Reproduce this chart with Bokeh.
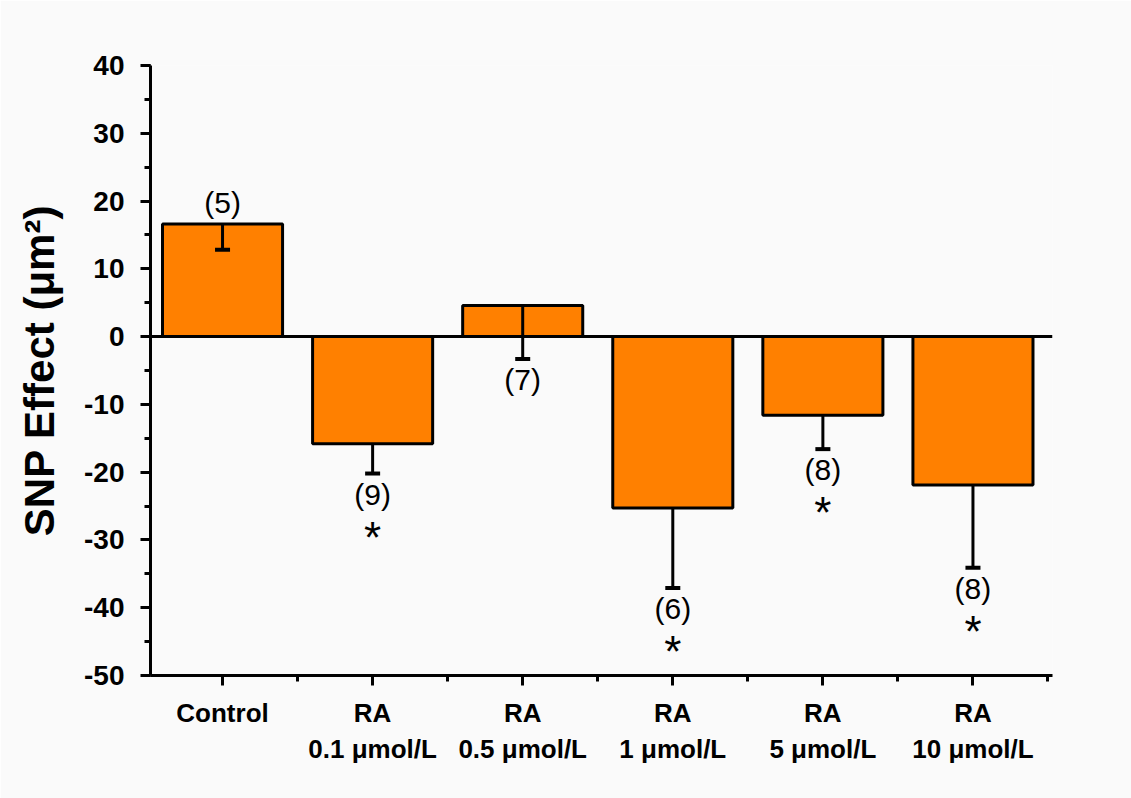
from bokeh.plotting import figure
from bokeh.models import Range1d, Span, FixedTicker, SingleIntervalTicker, ColumnDataSource
from bokeh.core.properties import value
from bokeh.embed import file_html
from bokeh.resources import INLINE

# Groups, mean SNP effect, error (drawn downward), sample size, significance
groups = ["Control", "RA\n0.1 μmol/L", "RA\n0.5 μmol/L", "RA\n1 μmol/L", "RA\n5 μmol/L", "RA\n10 μmol/L"]
means = [16.6, -15.8, 4.6, -25.3, -11.6, -21.9]
errors = [3.8, 4.4, 7.9, 11.8, 5.0, 12.2]
counts = [5, 9, 7, 6, 8, 8]
significant = [False, True, False, True, True, True]
y_ticks = [-50, -40, -30, -20, -10, 0, 10, 20, 30, 40]
y_title = "SNP Effect (μm²)"

FONT = "Liberation Sans"
xs = list(range(len(groups)))
lows = [m - e for m, e in zip(means, errors)]

p = figure(width=1131, height=798, output_backend="svg", toolbar_location=None,
           x_range=Range1d(-0.48, 5.53), y_range=Range1d(-50, 40),
           min_border_left=150, min_border_right=79, min_border_top=65, min_border_bottom=123,
           background_fill_color="#fafafa", border_fill_color="#fafafa")
p.outline_line_color = None
p.grid.visible = False

# bars
p.vbar(x=xs, top=means, bottom=0, width=0.8, fill_color="#FF8000",
       line_color="black", line_width=3)

# zero line
p.add_layout(Span(location=0, dimension="width", line_color="black", line_width=3))

# one-sided error bars with caps
p.segment(x0=xs, y0=means, x1=xs, y1=lows, line_color="black", line_width=3)
p.segment(x0=[x - 0.05 for x in xs], y0=lows, x1=[x + 0.05 for x in xs], y1=lows,
          line_color="black", line_width=4)

# sample size labels
labels = ["(%d)" % n for n in counts]
above = [m > 0 and m - e > 0 for m, e in zip(means, errors)]
src_above = ColumnDataSource(dict(x=[x for x, a in zip(xs, above) if a],
                                  y=[m for m, a in zip(means, above) if a],
                                  t=[l for l, a in zip(labels, above) if a]))
src_below = ColumnDataSource(dict(x=[x for x, a in zip(xs, above) if not a],
                                  y=[lo for lo, a in zip(lows, above) if not a],
                                  t=[l for l, a in zip(labels, above) if not a]))
p.text(x="x", y="y", text="t", source=src_above, text_align="center", text_baseline="bottom",
       y_offset=-5, text_font=value(FONT), text_font_size="30px", text_color="black")
p.text(x="x", y="y", text="t", source=src_below, text_align="center", text_baseline="top",
       y_offset=4, text_font=value(FONT), text_font_size="30px", text_color="black")

# significance stars
src_star = ColumnDataSource(dict(x=[x for x, s in zip(xs, significant) if s],
                                 y=[lo for lo, s in zip(lows, significant) if s]))
p.text(x="x", y="y", text=value("*"), source=src_star, text_align="center", text_baseline="top",
       y_offset=39, text_font=value(FONT), text_font_size="44px", text_color="black")

# y axis
p.yaxis.ticker = SingleIntervalTicker(interval=10, num_minor_ticks=2)
p.yaxis.major_label_overrides = {t: str(t) for t in y_ticks}
p.yaxis.axis_label = y_title
p.yaxis.axis_label_text_font = FONT
p.yaxis.axis_label_text_font_style = "bold"
p.yaxis.axis_label_text_font_size = "42px"
p.yaxis.axis_label_text_color = "black"
p.yaxis.axis_label_standoff = 18

# x axis
p.xaxis.ticker = FixedTicker(ticks=xs, minor_ticks=[0.5, 1.5, 2.5, 3.5, 4.5, 5.5])
p.xaxis.major_label_overrides = {i: g for i, g in enumerate(groups)}

for ax in (p.xaxis[0], p.yaxis[0]):
    ax.axis_line_width = 3
    ax.axis_line_color = "black"
    ax.major_tick_line_width = 3
    ax.major_tick_line_color = "black"
    ax.minor_tick_line_width = 3
    ax.minor_tick_line_color = "black"
    ax.major_tick_out = 10
    ax.major_tick_in = 0
    ax.minor_tick_out = 6
    ax.minor_tick_in = 0
    ax.major_label_text_font = FONT
    ax.major_label_text_font_style = "bold"
    ax.major_label_text_color = "black"

p.yaxis.major_label_text_font_size = "28px"
p.yaxis.major_label_standoff = 16
p.xaxis.major_label_text_font_size = "26px"
p.xaxis.major_label_standoff = 12

open("out.html", "w").write(file_html(p, INLINE))
